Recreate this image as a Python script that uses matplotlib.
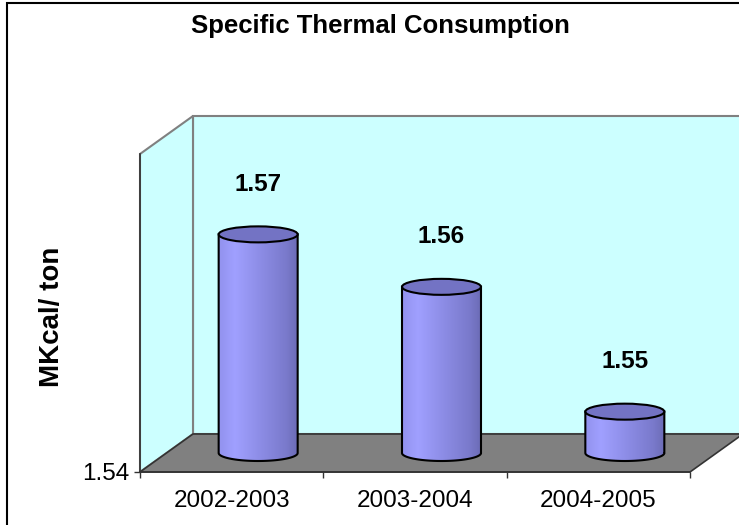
import numpy as np
import matplotlib
matplotlib.use("Agg")
import matplotlib.pyplot as plt
from matplotlib.patches import Polygon, Ellipse, PathPatch, Rectangle
from matplotlib.path import Path
from matplotlib.colors import LinearSegmentedColormap

plt.rcParams['font.family'] = ['Liberation Sans', 'DejaVu Sans']

# ---- data ----
categories = ["2002-2003", "2003-2004", "2004-2005"]
values = [1.5675, 1.5609, 1.5452]
y_min, y_max = 1.54, 1.58
y_ticks = [1.54]
title = "Specific Thermal Consumption"
y_label = "MKcal/ ton"

# ---- figure / geometry (pixels) ----
W, H = 739, 525
fig = plt.figure(figsize=(W / 100, H / 100), dpi=100)
left_px, right_px, bottom_px, top_px = 140, 690, 472, 154
ax = fig.add_axes([left_px / W, (H - bottom_px) / H,
                   (right_px - left_px) / W, (bottom_px - top_px) / H])
n = len(categories)
ax.set_xlim(0, n)
ax.set_ylim(y_min, y_max)

ux = n / (right_px - left_px)              # data units per px (x)
uy = (y_max - y_min) / (bottom_px - top_px)  # data units per px (y)
ddx, ddy = 53 * ux, 38 * uy                # depth offset of back wall

wall_edge = '#808080'
# back wall
ax.add_patch(Polygon([(ddx, y_min + ddy), (n + ddx, y_min + ddy),
                      (n + ddx, y_max + ddy), (ddx, y_max + ddy)],
                     closed=True, facecolor='#CCFFFF', edgecolor=wall_edge,
                     lw=1.5, clip_on=False, zorder=1))
# side wall
ax.add_patch(Polygon([(0, y_min), (ddx, y_min + ddy), (ddx, y_max + ddy), (0, y_max)],
                     closed=True, facecolor='#CCFFFF', edgecolor=wall_edge,
                     lw=1.5, clip_on=False, zorder=1.1))
# floor
ax.add_patch(Polygon([(0, y_min), (n, y_min), (n + ddx, y_min + ddy), (ddx, y_min + ddy)],
                     closed=True, facecolor='#808080', edgecolor='#333333',
                     lw=1.2, clip_on=False, zorder=1.2))

# ---- cylinders ----
xc = np.arange(n) + 0.5
bw = 79 * ux
eh = 8 * uy
bars = ax.bar(xc + ddx / 2, np.array(values) - y_min, bottom=y_min + ddy / 2,
              width=bw, color='none', edgecolor='none', zorder=3)

cmap = LinearSegmentedColormap.from_list(
    'cyl', [(0.0, '#9292EE'), (0.2, '#A0A0FF'), (0.55, '#8B8BE4'),
            (0.85, '#7A7ACC'), (1.0, '#6C6CB6')])
grad = np.linspace(0, 1, 256).reshape(1, -1)
t = np.linspace(np.pi, 2 * np.pi, 60)
for r, v in zip(bars, values):
    x0 = r.get_x(); w = r.get_width(); x1 = x0 + w
    y0 = r.get_y(); y1 = y0 + r.get_height()
    cx = x0 + w / 2
    arc = np.column_stack([cx + w / 2 * np.cos(t), y0 + eh * np.sin(t)])
    verts = np.vstack([[x0, y1], [x0, y0], arc, [x1, y0], [x1, y1], [x0, y1]])
    codes = [Path.MOVETO] + [Path.LINETO] * (len(verts) - 2) + [Path.CLOSEPOLY]
    body = PathPatch(Path(verts, codes), facecolor='none', edgecolor='none', zorder=3)
    ax.add_patch(body)
    im = ax.imshow(grad, cmap=cmap, extent=[x0, x1, y0 - eh, y1], aspect='auto',
                   origin='lower', zorder=3.1, interpolation='bilinear')
    im.set_clip_path(body)
    # outline of the body (sides + bottom arc)
    outline = np.vstack([[x0, y1], [x0, y0], arc, [x1, y0], [x1, y1]])
    ax.plot(outline[:, 0], outline[:, 1], color='black', lw=1.5, zorder=3.2,
            solid_joinstyle='round')
    ax.add_patch(Ellipse((cx, y1), width=w, height=2 * eh, facecolor='#7373C4',
                         edgecolor='black', lw=1.5, zorder=3.3))
    ax.annotate(f"{v:.2f}", (cx, y1), xytext=(0, 36), textcoords='offset points',
                ha='center', va='center', fontsize=17.5, fontweight='bold',
                color='black', zorder=5)

ax.set_xlim(0, n)
ax.set_ylim(y_min, y_max)

# ---- axes styling ----
for s in ['top', 'right']:
    ax.spines[s].set_visible(False)
ax.spines['bottom'].set_color('#333333')
ax.spines['bottom'].set_linewidth(1.2)
ax.spines['left'].set_color('#333333')
ax.spines['left'].set_linewidth(1.2)
ax.spines['bottom'].set_zorder(4)
ax.spines['left'].set_zorder(4)
ax.patch.set_visible(False)

ax.set_xticks(np.arange(n + 1))
ax.set_xticklabels([])
ax.set_xticks(xc, minor=True)
ax.set_xticklabels(categories, minor=True, fontsize=17.5)
ax.tick_params(axis='x', which='major', direction='out', length=4.3,
               color='#333333', width=1)
ax.tick_params(axis='x', which='minor', length=0, pad=13)
ax.set_yticks(y_ticks)
ax.set_yticklabels([f"{v:.2f}" for v in y_ticks], fontsize=17.5)
ax.tick_params(axis='y', direction='out', length=4.3, color='#333333',
               width=1, pad=3)

fig.text(380 / W, 1 - 26 / H, title, ha='center', va='center',
         fontsize=18.5, fontweight='bold')
fig.text(52 / W, 1 - 317 / H, y_label, ha='center', va='center',
         rotation=90, fontsize=20, fontweight='bold')

# outer chart border (right & bottom edges fall outside the image)
fig.patches.append(Rectangle((7 / W, -0.05), 1.1, 1 - 3 / H + 0.05,
                             transform=fig.transFigure, facecolor='none',
                             edgecolor='black', lw=1.5, zorder=0))

fig.savefig("out.png", dpi=100)
